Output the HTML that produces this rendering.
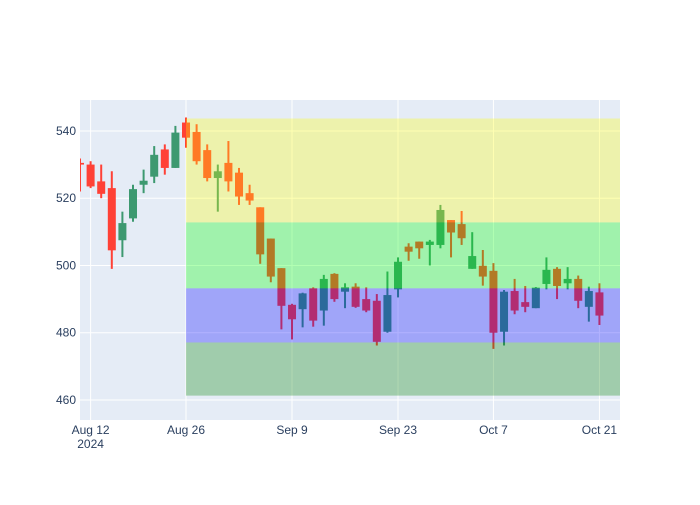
<!DOCTYPE html>
<html><head><meta charset="utf-8"><style>
body{margin:0;background:#fff;font-family:"Liberation Sans",sans-serif;}
svg text{font-family:"Liberation Sans",sans-serif;font-size:12px;fill:#2a3f5f;}
</style></head><body>
<svg id="chart" width="700" height="500" xmlns="http://www.w3.org/2000/svg">
<rect width="700" height="500" fill="#fff"/>
<rect x="80" y="100" width="540" height="320" fill="#e5ecf6"/>
<g id="grid"></g><g id="candles"></g><g id="zones"></g><g id="axes"></g>
</svg>
<script>
const opens =  [530.5,530,525,523,507.5,514,524,526.4,534.5,529,542.5,539.7,534.3,526,530.5,527.6,521.5,517.3,508,499.2,488.3,487,493.2,486.6,497.5,492.2,493.7,490,489.5,480.3,492.9,505.6,507.1,506.1,506.1,513.5,512.3,499,499.9,498.4,480.3,492.4,489.1,487.3,494.5,499,494.7,496,487.7,492];
const highs =  [531.8,531,530,528,516,524,528.5,535.5,536,541.5,544,542,536,530,537,529,524,517.3,508,499.2,488.6,491.9,493.5,497.2,497.7,494.7,494.7,493.5,491.5,498.2,502.4,506.6,507.1,507.6,518,513.5,516.2,509.9,504.6,500.7,492.7,496,493.9,493.6,502.4,499.5,499.5,497,493.7,494.7];
const lows =   [522,523,520,499,502.5,513,521.5,524.5,527,529,535,530,525,516,522,518,518,500.5,495,481,478,481.6,481.8,482.1,489.2,487.3,487.4,486.1,476.2,480,490.5,501.4,502,500,505.1,502.4,506.1,499,494,475.2,476.2,485.5,486.1,487.3,492.9,490,492.9,487.3,483.3,482.3];
const closes = [530,523.5,521.3,504.5,512.6,522.7,525.2,532.9,529,539.5,538,531,526,528,525,520.5,519.3,503.3,496.7,488,484,491.7,483.6,496,490,493.5,487.7,486.6,477.3,491.2,501.1,504.1,505.1,507.1,516.5,509.8,508.1,502.8,496.7,480,492.2,486.6,487.7,493.4,498.7,493.9,496,489.5,492.4,485.1];
const tickSlots = [1,10,20,30,39,49];
const tickLabels = ["Aug 12","Aug 26","Sep 9","Sep 23","Oct 7","Oct 21"];
const yTicks = [460,480,500,520,540];
const zoneNames = ["zone-yellow","zone-lime","zone-blue","zone-green"];
const zoneLows = [512.8,493.2,477.1,461.3];
const zoneHighs = [543.7,512.8,493.2,477.1];
const zoneColors = ["yellow","lime","blue","green"];
const zoneStart = 10;

const NS="http://www.w3.org/2000/svg";
const X0=80,X1=620,Y0=100,Y1=420;
const xMin=0,xMax=50.94,yMin=454.05,yMax=549.2;
const xs=i=>X0+(i-xMin)/(xMax-xMin)*(X1-X0);
const ys=v=>Y1-(v-yMin)/(yMax-yMin)*(Y1-Y0);
function mk(tag,attrs,parent){const e=document.createElementNS(NS,tag);for(const k in attrs)e.setAttribute(k,attrs[k]);document.getElementById(parent).appendChild(e);return e;}

yTicks.forEach((t,i)=>{
  const l=mk('line',{x1:X0,x2:X1,y1:ys(t),y2:ys(t),stroke:'#fff','stroke-width':1},'grid');
  
  
  const tx=mk('text',{x:76,y:ys(t)+4,'text-anchor':'end'},'axes');
  tx.textContent=t;
  
  
});
tickSlots.forEach((s,i)=>{
  const l=mk('line',{x1:xs(s),x2:xs(s),y1:Y0,y2:Y1,stroke:'#fff','stroke-width':1},'grid');
  
  
  const tx=mk('text',{x:xs(s),y:434,'text-anchor':'middle'},'axes');
  tx.textContent=tickLabels[i];
  
  
});
const yr=mk('text',{x:xs(tickSlots[0]),y:448,'text-anchor':'middle'},'axes');
yr.textContent='2024';



const clip=mk('clipPath',{id:'pc'},'candles');
mk('rect',{x:X0,y:Y0,width:X1-X0,height:Y1-Y0},'pc');
const cg=document.getElementById('candles');cg.setAttribute('clip-path','url(#pc)');
opens.forEach((o,i)=>{
  const c=closes[i],up=c>=o,col=up?'#3d9970':'#ff4136',x=xs(i);
  const g=mk('g',{},'candles');
  
  
  const w=document.createElementNS(NS,'line');
  w.setAttribute('x1',x);w.setAttribute('x2',x);w.setAttribute('y1',ys(highs[i]));w.setAttribute('y2',ys(lows[i]));
  w.setAttribute('stroke',col);w.setAttribute('stroke-width',2);g.appendChild(w);
  const b=document.createElementNS(NS,'rect');
  const top=ys(Math.max(o,c)),bot=ys(Math.min(o,c));
  b.setAttribute('x',x-4);b.setAttribute('width',8);b.setAttribute('y',top);b.setAttribute('height',Math.max(1.5,bot-top));
  b.setAttribute('fill',col);g.appendChild(b);
});
zoneNames.forEach((n,i)=>{
  const r=mk('rect',{x:xs(zoneStart),y:ys(zoneHighs[i]),width:X1-xs(zoneStart),height:ys(zoneLows[i])-ys(zoneHighs[i]),fill:zoneColors[i],opacity:0.3},'zones');
  
  
});
</script>
</body></html>
